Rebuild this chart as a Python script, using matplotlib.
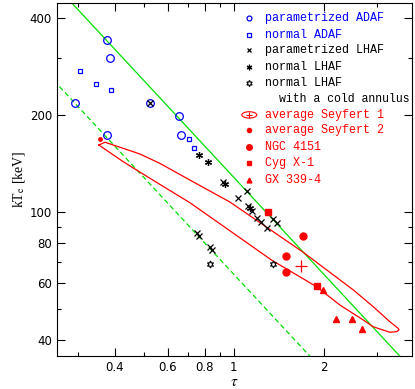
import numpy as np
import matplotlib.pyplot as plt
from matplotlib.patches import Ellipse

plt.rcParams['mathtext.fontset'] = 'stix'

# model results
adaf_p_tau = [0.375, 0.386, 0.2945, 0.526, 0.656, 0.375, 0.667]   # parametrized ADAF
adaf_p_kT = [341.5, 300.1, 217.6, 217.6, 198.3, 173.1, 173.1]
adaf_n_tau = [0.305, 0.345, 0.387, 0.706, 0.737]                  # normal ADAF
adaf_n_kT = [274.1, 249.7, 238.8, 168.5, 157.7]
lhaf_p_tau = [0.526, 0.921, 1.103, 1.034, 1.117, 1.146, 1.191, 1.228, 1.286,
              1.347, 1.389, 0.750, 0.766, 0.831, 0.844]           # parametrized LHAF
lhaf_p_kT = [217.6, 124.2, 116.5, 110.3, 104.4, 100.9, 95.6, 93.3, 89.4,
             94.9, 92.2, 86.3, 84.2, 77.7, 76.2]
lhaf_n_tau = [0.766, 0.817, 0.933, 1.131]                         # normal LHAF
lhaf_n_kT = [150.7, 143.3, 122.2, 102.7]
lhaf_c_tau = [0.831, 1.353]                                       # normal LHAF, cold annulus
lhaf_c_kT = [68.8, 68.8]

# observations
sy1_tau, sy1_kT = [1.675], [68.1]
sy2_tau, sy2_kT = [0.356], [168.2]
ngc_tau = [1.697, 1.492, 1.492]
ngc_kT = [84.4, 73.2, 65.3]
cyg_tau = [1.302, 1.895]
cyg_kT = [100.2, 58.7]
gx_tau = [1.989, 2.188, 2.487, 2.686]
gx_kT = [57.3, 46.4, 46.4, 43.3]

# Seyfert 1 contour, traced round the outline
cont_tau = [0.3535, 0.3704, 0.4264, 0.4850, 0.5656, 0.7125, 0.9697, 1.701, 2.506,
            2.924, 3.325, 3.545, 3.564, 3.500, 3.325, 2.924, 2.707, 2.262, 1.890,
            1.337, 0.7125, 0.5235, 0.4264, 0.3535]
cont_kT = [161.5, 164.7, 157.7, 151.4, 141.6, 125.7, 107.4, 75.1, 57.3,
           50.8, 45.6, 43.5, 43.0, 42.5, 42.3, 44.0, 46.2, 51.4, 58.6,
           70.9, 106.9, 127.3, 143.3, 161.5]

# kT ~ 1/tau lines
solid_tau, solid_kT = [0.25, 4.0], [512, 32]
dash_tau, dash_kT = [0.25, 4.0], [256, 16]

blue, red, green = '#0000ff', '#ff0000', '#00e000'

fig = plt.figure(figsize=(4.15, 3.89), dpi=100)
ax = fig.add_axes([0.1373, 0.0848, 0.8554, 0.9075])
ax.set_xscale('log')
ax.set_yscale('log')

ax.plot(solid_tau, solid_kT, color=green, lw=0.9)
ax.plot(dash_tau, dash_kT, color=green, lw=0.9, dashes=(4, 2.5))
ax.plot(cont_tau, cont_kT, color=red, lw=0.9)

ax.plot(adaf_p_tau, adaf_p_kT, 'o', ms=5.5, mfc='none', mec=blue, mew=0.9, ls='none')
ax.plot(adaf_n_tau, adaf_n_kT, 's', ms=3.5, mfc='none', mec=blue, mew=0.9, ls='none')
ax.plot(lhaf_p_tau, lhaf_p_kT, 'x', ms=4, color='k', mew=0.9, ls='none')
ax.plot(lhaf_n_tau, lhaf_n_kT, marker=(6, 2, 0), ms=5, color='k', mew=0.9, ls='none')
ax.plot(lhaf_c_tau, lhaf_c_kT, marker=(6, 1, 0), ms=5, mfc='none', mec='k', mew=0.8, ls='none')

ax.plot(sy1_tau, sy1_kT, '+', ms=8, color=red, mew=0.9, ls='none')
ax.plot(sy2_tau, sy2_kT, 'o', ms=2.5, color=red, ls='none')
ax.plot(ngc_tau, ngc_kT, 'o', ms=5, color=red, ls='none')
ax.plot(cyg_tau, cyg_kT, 's', ms=4, color=red, ls='none')
ax.plot(gx_tau, gx_kT, '^', ms=4.5, color=red, ls='none')

ax.set_xlim(0.256, 3.94)
ax.set_ylim(35.7, 446)

ax.set_xticks([0.4, 0.6, 0.8, 1, 2])
ax.set_xticklabels(['0.4', '0.6', '0.8', '1', '2'])
ax.set_xticks([0.3, 0.5, 0.7, 0.9, 3], minor=True)
ax.set_xticklabels([], minor=True)
ax.set_yticks([40, 60, 80, 100, 200, 400])
ax.set_yticklabels(['40', '60', '80', '100', '200', '400'])
ax.set_yticks([50, 70, 90, 300], minor=True)
ax.set_yticklabels([], minor=True)
ax.tick_params(which='both', direction='in', top=True, right=True, width=0.8, labelsize=8.5)
ax.tick_params(which='major', length=5.5)
ax.tick_params(which='minor', length=3)
for s in ax.spines.values():
    s.set_linewidth(0.8)

ax.set_xlabel(r'$\tau$', fontsize=11, labelpad=0)
ax.set_ylabel(r'kT$_{\rm e}$ [keV]', fontsize=10, family='Liberation Serif', labelpad=2)

# legend, drawn by hand
mx, tx = 0.5417, 0.586
rows = [(0.958, 'parametrized ADAF', blue), (0.910, 'normal ADAF', blue),
        (0.866, 'parametrized LHAF', 'k'), (0.818, 'normal LHAF', 'k'),
        (0.773, 'normal LHAF', 'k'), (0.683, 'average Seyfert 1', red),
        (0.639, 'average Seyfert 2', red), (0.591, 'NGC 4151', red),
        (0.546, 'Cyg X-1', red), (0.499, 'GX 339-4', red)]
for y, label, c in rows:
    ax.text(tx, y, label, color=c, transform=ax.transAxes, va='center', ha='left',
            family='Liberation Mono', fontsize=8.5)
ax.text(0.626, 0.727, 'with a cold annulus', color='k', transform=ax.transAxes,
        va='center', ha='left', family='Liberation Mono', fontsize=8.3)

kw = dict(transform=ax.transAxes, ls='none', clip_on=False)
ax.plot([mx], [0.958], 'o', ms=3.5, mfc='none', mec=blue, mew=0.9, **kw)
ax.plot([mx], [0.910], 's', ms=2.8, mfc='none', mec=blue, mew=0.9, **kw)
ax.plot([mx], [0.866], 'x', ms=3.5, color='k', mew=0.9, **kw)
ax.plot([mx], [0.818], marker=(6, 2, 0), ms=4, color='k', mew=0.9, **kw)
ax.plot([mx], [0.773], marker=(6, 1, 0), ms=4.5, mfc='none', mec='k', mew=0.8, **kw)
ax.add_patch(Ellipse((mx, 0.683), 0.042, 0.018, transform=ax.transAxes,
                     fill=False, ec=red, lw=0.8))
ax.plot([mx], [0.683], '+', ms=5, color=red, mew=0.8, **kw)
ax.plot([mx], [0.639], 'o', ms=3, color=red, **kw)
ax.plot([mx], [0.591], 'o', ms=4, color=red, **kw)
ax.plot([mx], [0.546], 's', ms=3, color=red, **kw)
ax.plot([mx], [0.499], '^', ms=3.5, color=red, **kw)

fig.savefig('out.png', dpi=100)
